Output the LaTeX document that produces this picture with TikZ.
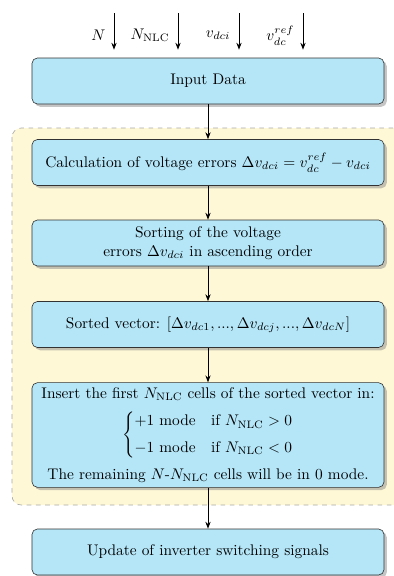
\documentclass[tikz,border=0pt]{standalone}
\usepackage{amsmath,amssymb}
\usepackage{xcolor}
\usepackage{tikz}
\usetikzlibrary{arrows.meta,shadows}

\definecolor{boxblue}{RGB}{180,230,248}
\definecolor{zoneyellow}{RGB}{255,248,214}

\tikzset{
  block/.style={draw=black!80, fill=boxblue, rounded corners=3.5pt,
    minimum width=228.8pt, minimum height=29.9pt, align=center,
    drop shadow={shadow xshift=1.8pt, shadow yshift=-1.8pt, fill=black!45}},
  flow/.style={-{Stealth[length=4.5pt,width=3.4pt]}, semithick},
}

\begin{document}
\begin{tikzpicture}[x=0.65pt,y=-0.65pt]
  \useasboundingbox (0,0) rectangle (394,576);
  % zone of the sorting algorithm
  \draw[dashed, draw=black!35, fill=zoneyellow, rounded corners=6pt]
    (12,128) rectangle (404,505);

  \node[block] (input) at (208,81) {Input Data};
  \node[block] (calc) at (208,162.5)
    {Calculation of voltage errors $\Delta v_{dci} = v_{dc}^{ref} - v_{dci}$};
  \node[block] (sort) at (208,243)
    {Sorting of the voltage\\ errors $\Delta v_{dci}$ in ascending order};
  \node[block] (vect) at (208,324.5)
    {Sorted vector: $\left[\Delta v_{dc1}, ..., \Delta v_{dcj}, ..., \Delta v_{dcN}\right]$};
  \node[block, minimum height=67.6pt] (insert) at (208,435)
    {Insert the first $N_{\mathrm{NLC}}$ cells of the sorted vector in:\\[5pt]
     $\begin{cases} +1 \text{ mode} & \text{if } N_{\mathrm{NLC}} > 0\\[3pt]
                    -1 \text{ mode} & \text{if } N_{\mathrm{NLC}} < 0 \end{cases}$\\[5pt]
     The remaining $N$-$N_{\mathrm{NLC}}$ cells will be in 0 mode.};
  \node[block] (update) at (208,552) {Update of inverter switching signals};

  % inputs
  \coordinate (inN) at (114,13);
  \coordinate (inNlc) at (178,13);
  \coordinate (invdc) at (239,13);
  \coordinate (inref) at (303,13);
  \draw[flow, shorten >=5.2pt] (inN) -- (inN |- input.north) node[midway, left=2pt] {$N$};
  \draw[flow, shorten >=5.2pt] (inNlc) -- (inNlc |- input.north) node[midway, left=2pt] {$N_{\mathrm{NLC}}$};
  \draw[flow, shorten >=5.2pt] (invdc) -- (invdc |- input.north) node[midway, left=2pt] {$v_{dci}$};
  \draw[flow, shorten >=5.2pt] (inref) -- (inref |- input.north) node[midway, left=2pt] {$v_{dc}^{ref}$};

  % steps
  \draw[flow] (input) -- (calc);
  \draw[flow] (calc) -- (sort);
  \draw[flow] (sort) -- (vect);
  \draw[flow] (vect) -- (insert);
  \draw[flow] (insert) -- (update);
\end{tikzpicture}
\end{document}
